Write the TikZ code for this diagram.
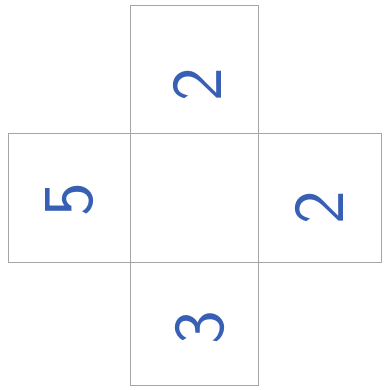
\documentclass[tikz,border=0pt]{standalone}
\usepackage{tikz}
\usetikzlibrary{positioning, calc}
\definecolor{ink}{RGB}{55,95,180}
\definecolor{pencil}{RGB}{165,165,165}

\begin{document}
\begin{tikzpicture}[
    node distance=0pt,
    face/.style={rectangle, draw=pencil, line width=0.5pt, inner sep=0pt, outer sep=0pt},
    digit/.style={text=ink, rotate=90, font=\sffamily\fontsize{54}{54}\selectfont}
]
    \useasboundingbox (-5.14,-5.10) rectangle (5.01,5.23);

    \node[face, minimum width=3.39cm, minimum height=3.42cm] (middle) {};
    \node[face, above=of middle, minimum width=3.39cm, minimum height=3.39cm] (top) {};
    \node[face, below=of middle, minimum width=3.39cm, minimum height=3.26cm] (bottom) {};
    \node[face, left=of middle, minimum width=3.23cm, minimum height=3.42cm] (left) {};
    \node[face, right=of middle, minimum width=3.26cm, minimum height=3.42cm] (right) {};

    \node[digit] at ($(top.center)+(0.08,-0.42)$) (numtop) {2};
    \node[digit] at ($(left.center)+(0,-0.07)$) (numleft) {5};
    \node[digit] at ($(right.center)+(0,-0.28)$) (numright) {2};
    \node[digit] at ($(bottom.center)+(0.16,-0.12)$) (numbottom) {3};
\end{tikzpicture}
\end{document}
